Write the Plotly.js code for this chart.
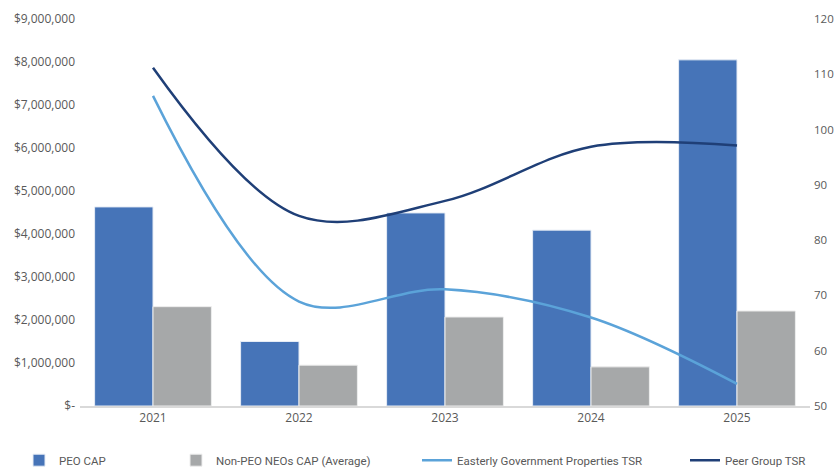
<!DOCTYPE html>
<html>
<head>
<meta charset="utf-8">
<script src="https://cdn.plot.ly/plotly-3.0.1.min.js"></script>
<style>html,body{margin:0;padding:0;background:#fff;}#chart{width:836px;height:468px;}</style>
</head>
<body>
<div id="chart"></div>
<script>
var years = ['2021', '2022', '2023', '2024', '2025'];
var peoCap = [4630000, 1500000, 4490000, 4090000, 8050000];
var nonPeoCap = [2310000, 950000, 2070000, 910000, 2210000];
var easterlyTSR = [106.1, 68.9, 71.1, 66.0, 54.0];
var peerTSR = [111.2, 84.4, 87.1, 96.9, 97.1];
var leftTickVals = [0, 1000000, 2000000, 3000000, 4000000, 5000000, 6000000, 7000000, 8000000, 9000000];
var leftTickText = ['$-', '$1,000,000', '$2,000,000', '$3,000,000', '$4,000,000', '$5,000,000', '$6,000,000', '$7,000,000', '$8,000,000', '$9,000,000'];
var rightTickVals = [50, 60, 70, 80, 90, 100, 110, 120];

var font = {family: 'Open Sans, sans-serif', size: 12, color: '#595959'};
var rfont = {family: 'Open Sans, sans-serif', size: 11.5, color: '#595959'};
var legFont = {family: 'Roboto, sans-serif', size: 11.5, color: '#595959'};

var traces = [
  {type: 'bar', name: 'PEO CAP', x: years, y: peoCap, yaxis: 'y',
   marker: {color: '#4674B8', line: {color: '#E6ECF5', width: 1}}, legend: 'legend'},
  {type: 'bar', name: 'Non-PEO NEOs CAP (Average)', x: years, y: nonPeoCap, yaxis: 'y',
   marker: {color: '#A6A8A9', line: {color: '#EDEDED', width: 1}}, legend: 'legend2'},
  {type: 'scatter', mode: 'lines', name: 'Easterly Government Properties TSR', x: years, y: easterlyTSR, yaxis: 'y2',
   line: {color: '#5BA3D9', width: 2.5, shape: 'spline', smoothing: 1.0}, legend: 'legend3'},
  {type: 'scatter', mode: 'lines', name: 'Peer Group TSR', x: years, y: peerTSR, yaxis: 'y2',
   line: {color: '#1F3F77', width: 2.5, shape: 'spline', smoothing: 1.0}, legend: 'legend4'}
];

var plotL = 80, plotW = 730;
function legP(xpx) {
  return {x: (xpx - plotL) / plotW, xref: 'paper', y: -0.14, yref: 'paper', xanchor: 'left', yanchor: 'middle',
    orientation: 'h', font: legFont, bgcolor: 'rgba(0,0,0,0)', itemwidth: 30, tracegroupgap: 0};
}

var layout = {
  width: 836, height: 468,
  margin: {l: 80, r: 26, t: 19, b: 62, pad: 0, autoexpand: false},
  paper_bgcolor: '#fff', plot_bgcolor: '#fff',
  barmode: 'group', bargap: 0.2, bargroupgap: 0,
  font: font,
  showlegend: true,
  xaxis: {type: 'category', showgrid: false, zeroline: false, showline: true, linecolor: '#D9D9D9', linewidth: 2,
    ticks: '', tickfont: font, fixedrange: true},
  yaxis: {range: [0, 9000000], tickvals: leftTickVals, ticktext: leftTickText, showgrid: false, zeroline: false,
    showline: false, ticks: '', tickfont: font, ticklabelstandoff: 4},
  yaxis2: {range: [50, 120], tickvals: rightTickVals, overlaying: 'y', side: 'right', showgrid: false, zeroline: false,
    showline: false, ticks: '', tickfont: rfont, ticklabelstandoff: 3},
  legend: legP(19),
  legend2: legP(176),
  legend3: legP(417),
  legend4: legP(685)
};

Plotly.newPlot('chart', traces, layout, {displayModeBar: false, staticPlot: true});
</script>
</body>
</html>
